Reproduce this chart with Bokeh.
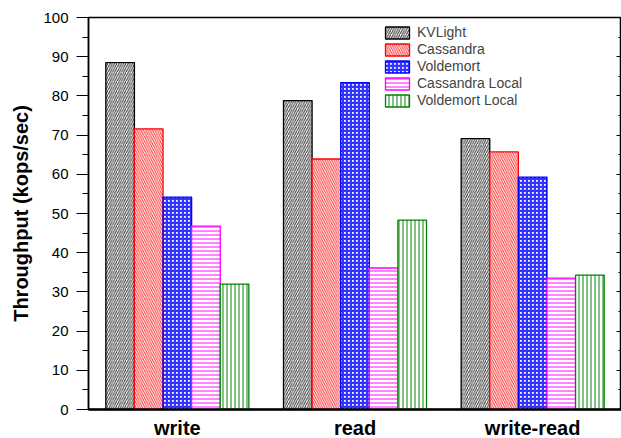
from bokeh.plotting import figure
from bokeh.models import (FactorRange, Range1d, LinearAxis, SingleIntervalTicker,
                          Legend, LegendItem, ColumnDataSource, CustomJSTickFormatter)
from bokeh.transform import dodge
from bokeh.embed import file_html
from bokeh.resources import INLINE

categories = ["write", "read", "write-read"]
series_names = ["KVLight", "Cassandra", "Voldemort", "Cassandra Local", "Voldemort Local"]
kvlight = [88.5, 78.8, 69.1]
cassandra = [71.6, 63.9, 65.7]
voldemort = [54.2, 83.4, 59.3]
cassandra_local = [46.8, 36.1, 33.5]
voldemort_local = [32.0, 48.3, 34.3]

colors = ["#000000", "#FF0000", "#0000FF", "#FF00FF", "#008000"]
patterns = ["right_diagonal_line", "left_diagonal_line", "cross", "horizontal_line", "vertical_line"]
weights = [1.0, 1.0, 2.4, 1.2, 1.2]
scales = [4.5, 4.5, 4.0, 4.0, 4.0]

src = ColumnDataSource(dict(cat=categories, s0=kvlight, s1=cassandra, s2=voldemort,
                            s3=cassandra_local, s4=voldemort_local))

FONT = "Liberation Sans"

p = figure(x_range=FactorRange(*categories), y_range=Range1d(0, 100),
           width=621, height=441, output_backend="svg", toolbar_location=None,
           min_border_left=88, min_border_top=17, min_border_bottom=10, min_border_right=0)
p.grid.visible = False
p.outline_line_color = "#000000"
p.outline_line_width = 1.5
p.x_range.range_padding = 0
p.x_range.group_padding = 0

bw = 0.161
renderers = []
for i in range(5):
    r = p.vbar(x=dodge("cat", (i - 2) * bw, range=p.x_range), top="s%d" % i, width=bw,
               source=src, fill_color="white", line_color=colors[i], line_width=1.3,
               hatch_pattern=patterns[i], hatch_color=colors[i], hatch_scale=scales[i],
               hatch_weight=weights[i], hatch_alpha=0.8)
    renderers.append(r)

# y axis
yax = p.yaxis[0]
yax.ticker = SingleIntervalTicker(interval=10, num_minor_ticks=2)
yax.axis_label = "Throughput (kops/sec)"
yax.axis_label_text_font = FONT
yax.axis_label_text_font_style = "bold"
yax.axis_label_text_font_size = "20px"
yax.axis_label_text_color = "#000000"
yax.axis_label_standoff = 8
yax.major_label_text_font = FONT
yax.major_label_text_font_size = "15px"
yax.major_label_text_color = "#000000"
yax.major_tick_out = 12
yax.major_tick_in = 0
yax.minor_tick_out = 6
yax.minor_tick_in = 0
yax.axis_line_width = 1.5
yax.major_tick_line_width = 1.2
yax.minor_tick_line_width = 1.2
yax.major_label_standoff = 8

# x axis
xax = p.xaxis[0]
xax.major_label_text_font = FONT
xax.major_label_text_font_style = "bold"
xax.major_label_text_font_size = "20px"
xax.major_label_text_color = "#000000"
xax.major_tick_line_color = None
xax.axis_line_width = 2.5
xax.major_label_standoff = 1

# right axis with inward ticks, no labels
rax = LinearAxis(ticker=SingleIntervalTicker(interval=10, num_minor_ticks=2),
                 formatter=CustomJSTickFormatter(code="return ''"),
                 major_tick_in=5, major_tick_out=0,
                 minor_tick_in=3, minor_tick_out=0, major_label_standoff=0,
                 axis_line_width=1.5)
p.add_layout(rax, "right")

legend = Legend(items=[LegendItem(label=series_names[i], renderers=[renderers[i]]) for i in range(5)],
                location=(294, 301), label_text_font=FONT, label_text_font_size="14px",
                glyph_width=30, glyph_height=15, label_height=15, spacing=1, padding=0,
                margin=0, border_line_alpha=0, background_fill_alpha=0, label_standoff=5)
p.add_layout(legend)

open("out.html", "w").write(file_html(p, INLINE))
